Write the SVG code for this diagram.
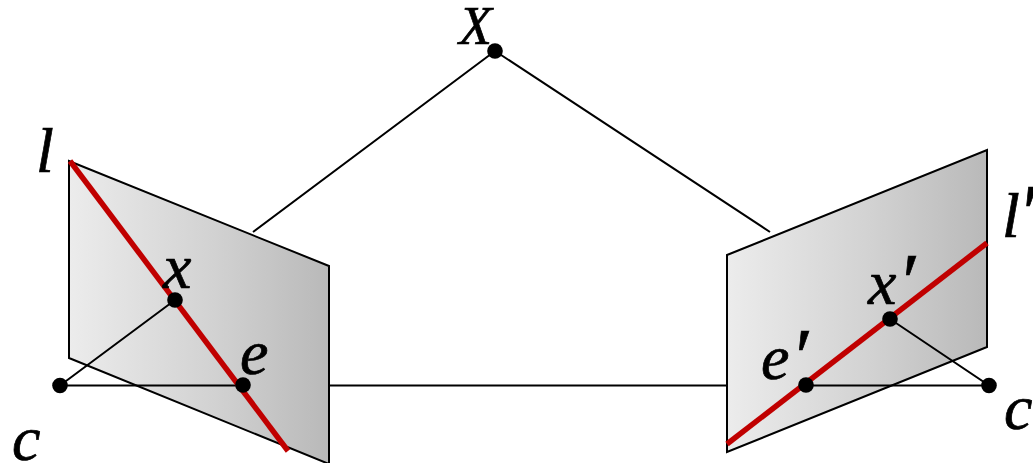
<svg xmlns="http://www.w3.org/2000/svg" width="1033" height="463" viewBox="0 0 1033 463">
<style>
.plane{stroke:#000;stroke-width:2;stroke-linejoin:miter}
.ray{stroke:#000;stroke-width:2;fill:none}
.epi{stroke:#c00000;stroke-width:5.500;fill:none}
.pt{fill:#000}
text{font-family:"Liberation Serif","DejaVu Serif",serif;font-style:italic;font-size:64px;fill:#000;stroke:#000;stroke-width:.7}
.cap{font-size:54px}
.pr{font-size:80px}
</style>
<defs>
<linearGradient id="g"><stop offset="0" stop-color="#ececec"/><stop offset="0.55" stop-color="#d2d2d2"/><stop offset="1" stop-color="#b9b9b9"/></linearGradient>
</defs>
<rect width="1033" height="463" fill="#fff"/>
<g id="connectors">
<path class="ray" d="M495 51L253 232M495 51L770 232M329 385.500H727"/>
</g>
<g id="plane-left"><path class="plane" fill="url(#g)" d="M69 161L329 266V464L69 358Z"/></g>
<g id="plane-right"><path class="plane" fill="url(#g)" d="M727 255L987 150V347L727 452Z"/></g>
<g id="rays-on-planes">
<path class="ray" d="M60 385.500L175 300M60 385.500H243M806 385.500H989L890 319"/>
<path class="epi" d="M70 161L288 451"/>
<path class="epi" d="M727 444L987 243"/>
</g>
<g id="node-X"><circle class="pt" cx="495" cy="51" r="7.800"/><text class="cap" x="459" y="44">X</text></g>
<g id="node-x"><circle class="pt" cx="175" cy="300" r="7.800"/><text x="163" y="288">x</text></g>
<g id="node-e"><circle class="pt" cx="243" cy="385" r="7.800"/><text x="240" y="374">e</text></g>
<g id="node-c"><circle class="pt" cx="60" cy="385.500" r="7.800"/><text x="12" y="460">c</text></g>
<g id="node-l"><text x="36" y="172">l</text></g>
<g id="node-x-prime"><circle class="pt" cx="890" cy="319" r="7.800"/><text x="868" y="304">x<tspan class="pr" dx="1" dy="5">′</tspan></text></g>
<g id="node-e-prime"><circle class="pt" cx="806" cy="385" r="7.800"/><text x="761" y="379">e<tspan class="pr" dx="1" dy="5">′</tspan></text></g>
<g id="node-c-prime"><circle class="pt" cx="989" cy="385.500" r="7.800"/><text x="1004" y="429">c</text></g>
<g id="node-l-prime"><text x="1002" y="237">l<tspan class="pr" dx="-2" dy="3">′</tspan></text></g>
</svg>
